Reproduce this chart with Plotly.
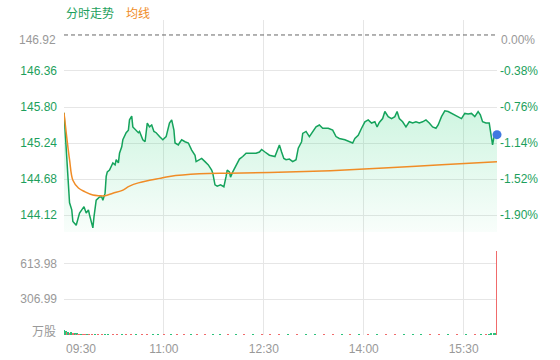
import plotly.graph_objects as go

# ---------------- data ----------------
prev_close = 146.92

# minutes after 09:30
t_price = [0,2,4,5,7,8,11,12,14,16,18,20,22,23,25,26,27,28,29,32,
           34,35,37,38,39,41,44,46,47,49,50,52,53,56,58,59,61,62,65,67,
           68,71,73,75,77,79,81,83,86,89,92,94,95,97,99,100,103,104,106,109,
           112,115,118,119,122,124,127,130,133,134,136,138,141,144,146,147,149,150,152,155,
           158,161,164,169,173,176,178,181,185,190,192,194,196,198,200,203,206,209,211,214,
           215,218,221,224,227,230,233,238,242,245,248,253,257,260,262,265,268,271,274,277,
           280,282,284,287,289,292,295,298,300,302,305,308,311,314,317,320,323,326,329,332,
           335,337,340,343,346,349,352,355,358,361,364,367,370,373,375,377,380,383,384,386,
           387,388,390]
prices = [145.71,145.13,144.66,144.31,144.20,144.02,143.96,144.04,144.15,144.20,
          144.25,144.15,144.20,144.12,144.00,143.92,144.09,144.25,144.35,144.40,
          144.40,144.35,144.46,144.72,144.79,144.82,144.93,144.90,144.98,144.93,
          145.08,145.18,145.29,145.40,145.44,145.60,145.66,145.49,145.44,145.40,
          145.42,145.29,145.26,145.55,145.49,145.52,145.42,145.40,145.34,145.29,
          145.34,145.49,145.55,145.60,145.44,145.24,145.21,145.24,145.29,145.26,
          145.24,145.13,145.05,144.95,144.98,145.00,144.95,144.90,144.82,144.77,
          144.59,144.57,144.59,144.56,144.72,144.82,144.79,144.71,144.79,144.90,
          144.99,145.03,145.08,145.08,145.08,145.10,145.14,145.10,145.05,145.03,
          145.13,145.21,145.10,145.00,144.98,144.99,144.95,144.98,145.16,145.26,
          145.39,145.42,145.34,145.42,145.49,145.52,145.47,145.47,145.44,145.34,
          145.31,145.29,145.26,145.24,145.31,145.36,145.47,145.57,145.60,145.55,
          145.57,145.49,145.56,145.62,145.73,145.65,145.62,145.65,145.73,145.62,
          145.57,145.49,145.57,145.55,145.57,145.55,145.57,145.60,145.55,145.49,
          145.47,145.52,145.65,145.74,145.73,145.70,145.68,145.65,145.62,145.70,
          145.69,145.70,145.65,145.73,145.68,145.57,145.55,145.55,145.42,145.21,
          145.31,145.36,145.37]

t_avg = [0,2,5,8,13,19,26,32,37,44,52,59,67,77,86,95,122,149,185,240,288,340,390]
avg = [145.71,145.40,144.98,144.66,144.54,144.48,144.43,144.42,144.42,144.46,
       144.50,144.57,144.62,144.66,144.69,144.72,144.76,144.77,144.78,144.81,
       144.85,144.90,144.95]

vol_t = [0,1,2,3,4,5,6,7,8,9,10,11,12,13,14,15,17,19,21,23,25,28,31,34,37,40,
         44,48,52,56,60,65,70,75,80,85,90,96,102,108,114,120,127,134,141,148,155,162,
         170,178,186,194,202,210,218,226,234,242,250,258,266,274,282,290,298,306,314,
         322,330,338,346,354,362,370,376,380,383,385,387,388,389,390]
vol = [45,30,34,26,24,20,22,17,15,18, 14,12,13,11,12,10, 12,9,11,10,
       9,8,10,9,8, 7,9,8,7,6, 8,6,5,7,6, 5,6,5,4,6, 5,4,6,5,4,
       5,4,5,4,5, 4,6,4,5,4, 5,4,5,6,4, 5,4,5,4,6, 5,4,5,6,5,
       6,5,7,8,10, 9,12,15,18,20, 14,718]
vol_dir = ("gggrgrggrr" "grgrrg" "rrgr" "rgrrg" "grrgr" "rgrrg" "grgrr" "grrgg"
           "rgrgr" "rrgrg" "grrgr" "grgrr" "gggrr" "grgrg" "rgggg" "gr")

price_ticks = [146.92, 146.36, 145.80, 145.24, 144.68, 144.12]
pct_labels = ["0.00%", "-0.38%", "-0.76%", "-1.14%", "-1.52%", "-1.90%"]
vol_ticks = [0, 306.99, 613.98]
vol_labels = ["万股", "306.99", "613.98"]
time_ticks = [0, 90, 180, 270, 360, 390]
time_labels = ["09:30", "11:00", "12:30", "14:00", "15:30", ""]

assert len(t_price) == len(prices)
assert len(t_avg) == len(avg)
assert len(vol_t) == len(vol) == len(vol_dir)

# ---------------- styles ----------------
GREEN = "#15a35c"
GREEN_TXT = "#1d9f5c"
ORANGE = "#f08c26"
GRAY = "#999999"
GRID = "#e6e6e6"
RED_BAR = "#f06b6b"
GREEN_BAR = "#2cc27c"
FONT = "Liberation Sans, Arial, sans-serif"
CJK = "Noto Sans CJK SC, sans-serif"

y_lo, y_hi = 143.856, 147.153
vol_hi = 884.0
split = 0.327

fig = go.Figure()

# price line with gradient fill
fig.add_trace(go.Scatter(
    x=t_price, y=prices, mode="lines",
    line=dict(color=GREEN, width=1.5),
    fill="tozeroy",
    fillgradient=dict(type="vertical", start=y_lo, stop=max(prices),
                      colorscale=[[0, "rgba(40,210,120,0.03)"],
                                  [1, "rgba(40,210,120,0.22)"]]),
    xaxis="x", yaxis="y", hoverinfo="skip", showlegend=False))

# average line
fig.add_trace(go.Scatter(
    x=t_avg, y=avg, mode="lines", line=dict(color=ORANGE, width=1.5, shape="spline"),
    xaxis="x", yaxis="y", hoverinfo="skip", showlegend=False))

# last point dot
fig.add_trace(go.Scatter(
    x=[t_price[-1]], y=[prices[-1]], mode="markers",
    marker=dict(color="#3f78e0", size=9), cliponaxis=False,
    xaxis="x", yaxis="y", hoverinfo="skip", showlegend=False))

# percent axis helper trace
fig.add_trace(go.Scatter(x=[t_price[0]], y=[prices[0]], mode="markers",
                         marker=dict(opacity=0), xaxis="x", yaxis="y2",
                         hoverinfo="skip", showlegend=False))
# grid helper trace
fig.add_trace(go.Scatter(x=[t_price[0]], y=[prices[0]], mode="markers",
                         marker=dict(opacity=0), xaxis="x", yaxis="y4",
                         hoverinfo="skip", showlegend=False))

# volume bars
fig.add_trace(go.Bar(
    x=vol_t, y=vol, width=1.0,
    marker=dict(color=[RED_BAR if d == "r" else GREEN_BAR for d in vol_dir], line_width=0),
    xaxis="x", yaxis="y3", hoverinfo="skip", showlegend=False))

# edge labels (prev close, volume unit, first time) are nudged inward as annotations
left_text = ["" if v == prev_close else f"{v:.2f}" for v in price_ticks]
right_text = ["" if v == prev_close else s for v, s in zip(price_ticks, pct_labels)]
vol_text = ["" if v == 0 else s for v, s in zip(vol_ticks, vol_labels)]

ann = [
    dict(text=f"{prev_close:.2f}", xref="paper", yref="y", x=0, y=prev_close,
         xanchor="right", yanchor="middle", xshift=-6, yshift=-5, showarrow=False,
         font=dict(color=GRAY, size=12, family=FONT)),
    dict(text=pct_labels[0], xref="paper", yref="y2", x=1, y=prev_close,
         xanchor="left", yanchor="middle", xshift=2, yshift=-5, showarrow=False,
         font=dict(color=GRAY, size=12, family=FONT)),
    dict(text=vol_labels[0], xref="paper", yref="y3", x=0, y=vol_ticks[0],
         xanchor="right", yanchor="middle", xshift=-6, yshift=5, showarrow=False,
         font=dict(color=GRAY, size=12, family=CJK)),
    dict(text=time_labels[0], xref="x", yref="paper", x=time_ticks[0], y=0,
         xanchor="left", yanchor="top", yshift=-5, showarrow=False,
         font=dict(color=GRAY, size=12, family=FONT)),
    dict(text="分时走势", xref="paper", yref="paper", x=0, y=1, yshift=8,
         xanchor="left", yanchor="middle", showarrow=False,
         font=dict(color=GREEN_TXT, size=12, family=CJK)),
    dict(text="均线", xref="paper", yref="paper", x=60 / 433, y=1, yshift=8,
         xanchor="left", yanchor="middle", showarrow=False,
         font=dict(color=ORANGE, size=12, family=CJK)),
]

fig.update_layout(
    width=560, height=360,
    margin=dict(l=64, r=63, t=20, b=25, autoexpand=False),
    paper_bgcolor="white", plot_bgcolor="white",
    font=dict(family=FONT, size=12, color=GRAY),
    bargap=0,
    xaxis=dict(range=[0, 390], tickvals=time_ticks, ticktext=[""] + time_labels[1:],
               showgrid=True, gridcolor=GRID, gridwidth=1, zeroline=False,
               anchor="y3", ticks="", ticklabelstandoff=5, automargin=False,
               tickfont=dict(color=GRAY, size=12, family=FONT), showline=False),
    yaxis=dict(domain=[split, 1], range=[y_lo, y_hi], tickvals=price_ticks,
               ticktext=left_text, showgrid=False, zeroline=False, anchor="x",
               ticks="", ticklabelstandoff=6, automargin=False,
               tickfont=dict(color=GREEN_TXT, size=12, family=FONT)),
    yaxis2=dict(domain=[split, 1], range=[y_lo, y_hi], overlaying="y", side="right",
                anchor="x", tickvals=price_ticks, ticktext=right_text, showgrid=False,
                zeroline=False, ticks="", ticklabelstandoff=2, automargin=False,
                tickfont=dict(color=GREEN_TXT, size=12, family=FONT)),
    yaxis4=dict(domain=[split, 1], range=[y_lo, y_hi], overlaying="y", anchor="x",
                tickvals=[v for v in price_ticks if v != prev_close], showticklabels=False,
                showgrid=True, gridcolor=GRID, zeroline=False, ticks="", automargin=False),
    yaxis3=dict(domain=[0, split], range=[0, vol_hi], tickvals=vol_ticks, ticktext=vol_text,
                showgrid=True, gridcolor=GRID, zeroline=False, anchor="x", ticks="",
                ticklabelstandoff=6, automargin=False,
                tickfont=dict(color=GRAY, size=12, family=FONT)),
    shapes=[dict(type="line", xref="x", yref="y", x0=time_ticks[0], x1=time_ticks[-1],
                 y0=prev_close, y1=prev_close,
                 line=dict(color="#666666", width=1, dash="4px,3px"))],
    annotations=ann,
)

fig.write_html("out.html")
